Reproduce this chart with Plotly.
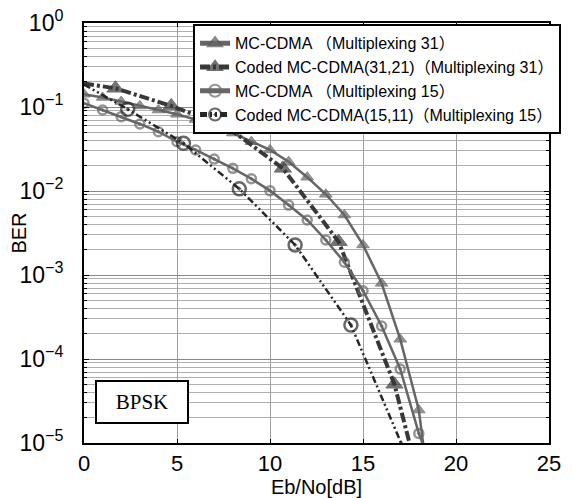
import plotly.graph_objects as go

# ---- data ----
x_mc31 = list(range(0, 19))
ber_mc31 = [0.142, 0.130, 0.116, 0.103, 0.092, 0.082, 0.071, 0.060, 0.049, 0.0386,
            0.0308, 0.0223, 0.0146, 0.00914, 0.00518, 0.00228, 0.000796, 0.000172, 0.0000247]
x_mc31_end = [18.0, 18.23]
ber_mc31_end = [0.0000247, 0.00001]

x_coded31 = [0, 1.69, 4.69, 7.69, 10.69, 13.69, 16.69, 17.5]
ber_coded31 = [0.19, 0.167, 0.103, 0.058, 0.0186, 0.00249, 0.000050, 0.00001]
mark_coded31 = [False, True, True, True, True, True, True, False]

x_mc15 = list(range(0, 19))
ber_mc15 = [0.111, 0.092, 0.0767, 0.0628, 0.0508, 0.0386, 0.0308, 0.0240, 0.0186, 0.0140,
            0.0101, 0.0068, 0.00452, 0.00261, 0.00142, 0.00065, 0.000247, 0.000076, 0.000013]
x_mc15_end = [18.0, 18.2]
ber_mc15_end = [0.000013, 0.00001]

x_coded15 = [0, 2.35, 5.35, 8.35, 11.35, 14.35, 17.05]
ber_coded15 = [0.185, 0.094, 0.037, 0.0106, 0.00228, 0.000254, 0.00001]
mark_coded15 = [False, True, True, True, True, True, False]

names = ["MC-CDMA （Multiplexing 31）",
         "Coded MC-CDMA(31,21)（Multiplexing 31）",
         "MC-CDMA （Multiplexing 15）",
         "Coded MC-CDMA(15,11)（Multiplexing 15）"]

y_tickvals = [10 ** e for e in range(-5, 1)]
y_ticktext = ["10<sup>−5</sup>", "10<sup>−4</sup>", "10<sup>−3</sup>",
              "10<sup>−2</sup>", "10<sup>−1</sup>", "10<sup>0</sup>"]
x_tickvals = [0, 5, 10, 15, 20, 25]

GRAY = "#666666"
DARK = "#383838"
DARKER = "#262626"
FONT = "Liberation Sans, Arial, Noto Sans CJK JP"

fig = go.Figure()

fig.add_trace(go.Scatter(
    x=x_mc31 + x_mc31_end[1:], y=ber_mc31 + ber_mc31_end[1:],
    mode="lines+markers", name=names[0],
    line=dict(color=GRAY, width=2.5),
    marker=dict(symbol="triangle-up", size=[11] * len(x_mc31) + [0],
                color=GRAY, line=dict(color="#555555", width=1)),
))

fig.add_trace(go.Scatter(
    x=x_coded31, y=ber_coded31,
    mode="lines+markers", name=names[1],
    line=dict(color=DARK, width=4, dash="10px,3px,3px,3px"),
    marker=dict(symbol="triangle-up", size=[15 if m else 0 for m in mark_coded31],
                color=DARK, line=dict(color=DARK, width=1)),
))

fig.add_trace(go.Scatter(
    x=x_mc15 + x_mc15_end[1:], y=ber_mc15 + ber_mc15_end[1:],
    mode="lines+markers", name=names[2],
    line=dict(color=GRAY, width=2.5),
    marker=dict(symbol="circle-open-dot", size=[9] * len(x_mc15) + [0],
                color=GRAY, line=dict(color=GRAY, width=2.5)),
))

fig.add_trace(go.Scatter(
    x=x_coded15, y=ber_coded15,
    mode="lines+markers", name=names[3],
    line=dict(color=DARKER, width=2.5, dash="7px,3px,2px,3px,2px,3px"),
    marker=dict(symbol="circle-open-dot", size=[13 if m else 0 for m in mark_coded15],
                color=DARKER, line=dict(color=DARKER, width=2.5)),
))

minor_vals = [m * 10 ** e for e in range(-5, 0) for m in range(2, 10)]

fig.update_layout(
    width=573, height=498,
    margin=dict(l=84, r=20, t=23, b=55),
    paper_bgcolor="white", plot_bgcolor="white",
    font=dict(family=FONT, color="black", size=16),
    showlegend=True,
    legend=dict(
        x=0.2345, y=0.997, xanchor="left", yanchor="top",
        bgcolor="white", bordercolor="black", borderwidth=2,
        font=dict(family=FONT, size=16, color="black"),
        tracegroupgap=0, itemsizing="constant",
    ),
    xaxis=dict(
        range=[0, 25], tickvals=x_tickvals, ticktext=[str(v) for v in x_tickvals],
        showgrid=True, gridcolor="#a0a0a0", gridwidth=1,
        ticks="inside", ticklen=4, tickcolor="black",
        showline=True, linecolor="black", linewidth=2, mirror="allticks",
        tickfont=dict(size=22, family=FONT),
        title=dict(text="Eb/No[dB]", font=dict(size=20, family=FONT), standoff=0),
        zeroline=False, automargin=False,
    ),
    yaxis=dict(
        type="log", range=[-5, 0],
        tickvals=y_tickvals, ticktext=y_ticktext,
        showgrid=True, gridcolor="#888888", gridwidth=1,
        ticks="inside", ticklen=5, tickcolor="black",
        showline=True, linecolor="black", linewidth=2, mirror="allticks",
        tickfont=dict(size=23, family=FONT), ticklabelstandoff=14,
        minor=dict(tickvals=minor_vals, showgrid=True, gridcolor="#b0b0b0",
                   gridwidth=1, ticks="inside", ticklen=3, tickcolor="black"),
        zeroline=False, automargin=False,
    ),
    annotations=[
        dict(
            x=0.1247, y=0.0988, xref="paper", yref="paper",
            text="BPSK", showarrow=False,
            font=dict(family="Liberation Serif, Times New Roman", size=21, color="black"),
            bgcolor="white", bordercolor="black", borderwidth=2, borderpad=3,
            width=84, height=34, xanchor="center", yanchor="middle",
        ),
        dict(
            x=-0.1407, y=0.5, xref="paper", yref="paper",
            text="BER", showarrow=False, textangle=-90,
            font=dict(family=FONT, size=20, color="black"),
            xanchor="center", yanchor="middle",
        ),
    ],
)

fig.write_html("out.html")
